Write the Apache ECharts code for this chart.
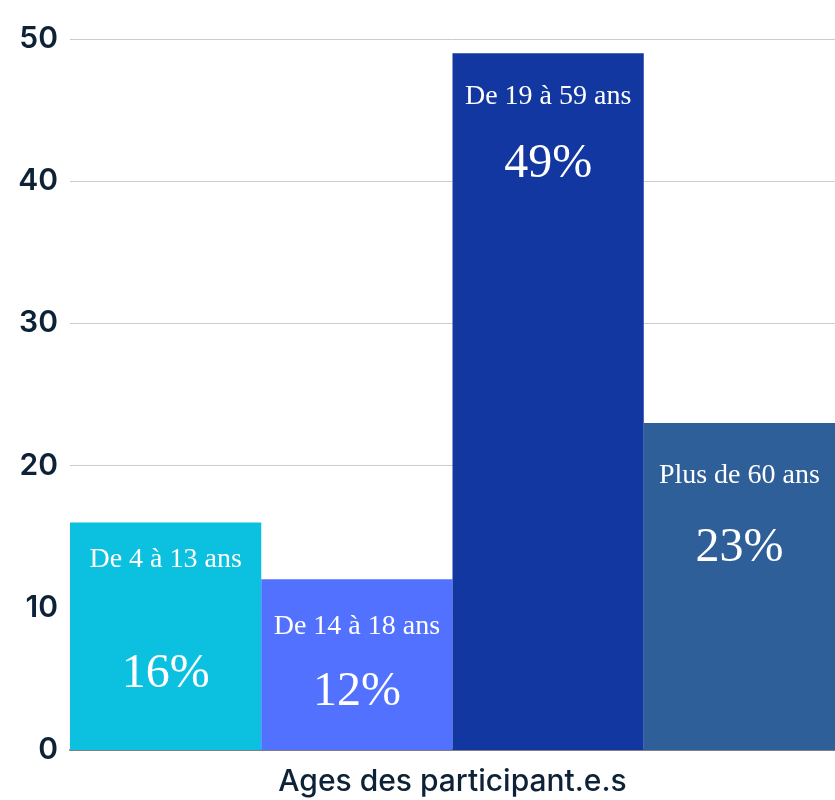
<!DOCTYPE html>
<html>
<head>
<meta charset="utf-8">
<script src="https://cdn.jsdelivr.net/npm/echarts@6/dist/echarts.min.js"></script>
<style>
  html, body { margin: 0; padding: 0; background: #fff; }
  #chart { width: 835px; height: 800px; }
</style>
</head>
<body>
<div id="chart"></div>
<script>
var categories = ['De 4 à 13 ans', 'De 14 à 18 ans', 'De 19 à 59 ans', 'Plus de 60 ans'];
var values = [16, 12, 49, 23];
var colors = ['#0cc0df', '#5271ff', '#1237a0', '#2e5f98'];
// where each label sits inside its bar (as in the original)
var labelDist = [21, 31, 27, 37];
var pctGap = [71, 22, 24, 28];

var dom = document.getElementById('chart');
var myChart = echarts.init(dom);

var data = values.map(function (v, i) {
    return {
        value: v,
        itemStyle: { color: colors[i] },
        label: {
            distance: labelDist[i],
            rich: {
                s: { lineHeight: pctGap[i], fontSize: 10 }
            }
        }
    };
});

var option = {
    animation: false,
    grid: { left: 70, right: 0, top: 39, bottom: 50, outerBoundsMode: 'none' },
    xAxis: {
        type: 'category',
        data: categories,
        name: 'Ages des participant.e.s',
        nameLocation: 'middle',
        nameGap: 17,
        nameTextStyle: { color: '#0d2137', fontSize: 30, fontFamily: 'Inter', fontWeight: 500 },
        axisLine: { lineStyle: { color: '#7f7f7f', width: 2 } },
        axisTick: { show: false },
        axisLabel: { show: false }
    },
    yAxis: {
        type: 'value',
        min: 0,
        max: 50,
        interval: 10,
        axisLine: { show: false },
        axisTick: { show: false },
        axisLabel: { color: '#0d2137', fontSize: 30, fontFamily: 'Inter', fontWeight: 600, margin: 12 },
        splitLine: { lineStyle: { color: '#cccccc', width: 1 } }
    },
    series: [{
        type: 'bar',
        barWidth: '100%',
        data: data,
        label: {
            show: true,
            position: 'insideTop',
            color: '#fff',
            fontFamily: 'Liberation Serif',
            formatter: function (p) {
                return '{n|' + p.name + '}\n{s| }\n{p|' + p.value + '%}';
            },
            rich: {
                n: { fontSize: 28, lineHeight: 32, color: '#fff', fontFamily: 'Liberation Serif' },
                s: { fontSize: 10, lineHeight: 20 },
                p: { fontSize: 48, lineHeight: 56, color: '#fff', fontFamily: 'Liberation Serif' }
            }
        }
    }]
};

myChart.setOption(option);
</script>
</body>
</html>
